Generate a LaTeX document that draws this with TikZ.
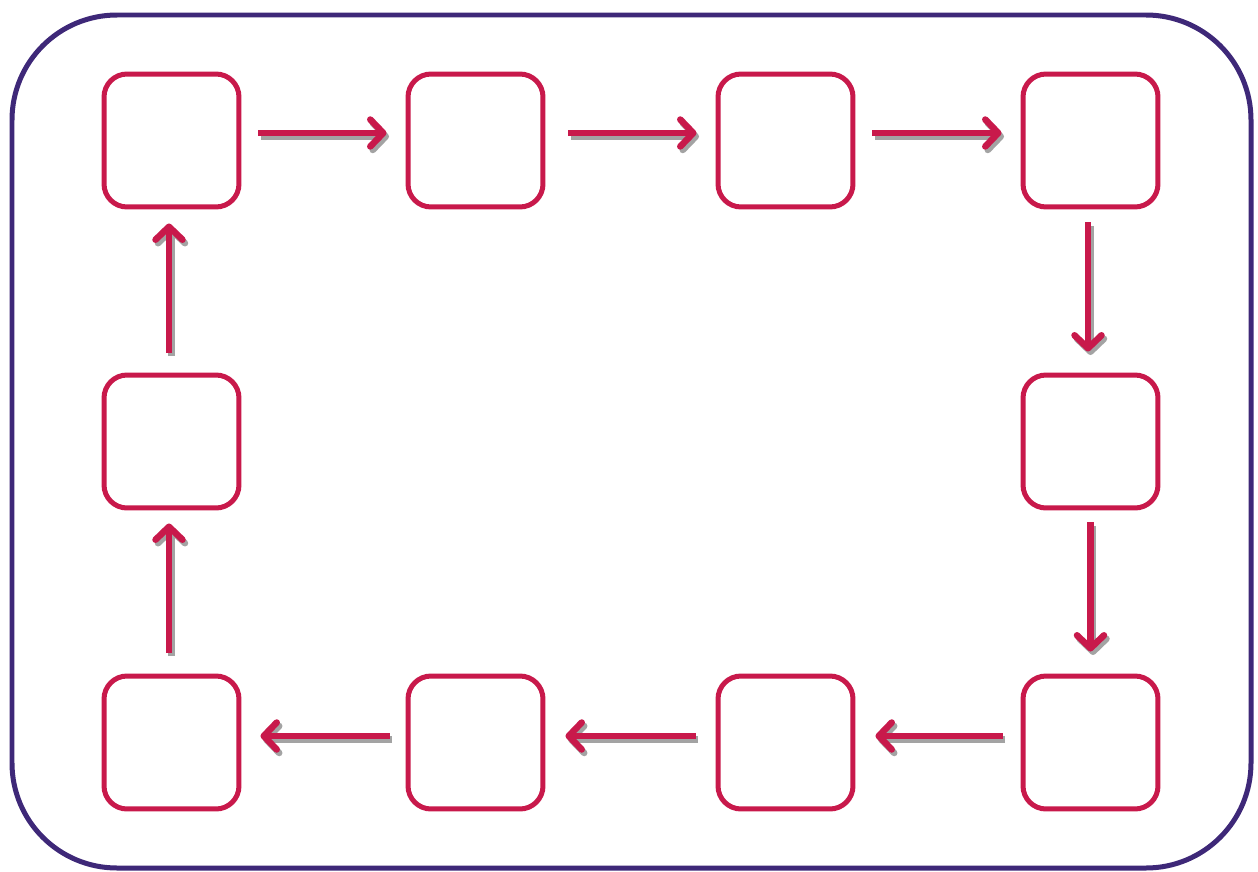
\documentclass[tikz,border=0pt]{standalone}
\usetikzlibrary{arrows.meta}
\definecolor{boxred}{HTML}{C8194B}
\definecolor{framepurple}{HTML}{3E2878}
\definecolor{shadowgray}{HTML}{A3A3A3}
\tikzset{
  stepbox/.style={draw=boxred,line width=0.1cm,rounded corners=0.46cm,minimum width=2.7cm,minimum height=2.66cm,fill=white},
  arr/.style={line width=0.13cm,-{Straight Barb[length=0.26cm,width=0.54cm,round]}},
}
% the ten arrows of the cycle, drawn in colour #1
\newcommand{\cyclearrows}[1]{
\draw[arr,#1,shorten <=0.34cm,shorten >=0.38cm]  ([yshift=0.15cm]b1.east) -- ([yshift=0.15cm]b2.west);
\draw[arr,#1,shorten <=0.46cm,shorten >=0.38cm]  ([yshift=0.15cm]b2.east) -- ([yshift=0.15cm]b3.west);
\draw[arr,#1,shorten <=0.34cm,shorten >=0.38cm]  ([yshift=0.15cm]b3.east) -- ([yshift=0.15cm]b4.west);
\draw[arr,#1,shorten <=0.26cm,shorten >=0.42cm]  ([xshift=-0.05cm]b4.south) -- ([xshift=-0.05cm]b5.north);
\draw[arr,#1,shorten <=0.24cm,shorten >=0.44cm]  (b5.south) -- (b6.north);
\draw[arr,#1,shorten <=0.36cm,shorten >=0.4cm]  ([yshift=0.13cm]b6.west) -- ([yshift=0.13cm]b7.east);
\draw[arr,#1,shorten <=0.4cm,shorten >=0.4cm]  ([yshift=0.13cm]b7.west) -- ([yshift=0.13cm]b8.east);
\draw[arr,#1,shorten <=0.32cm,shorten >=0.38cm]  ([yshift=0.13cm]b8.west) -- ([yshift=0.13cm]b9.east);
\draw[arr,#1,shorten <=0.42cm,shorten >=0.26cm]  ([xshift=-0.05cm]b9.north) -- ([xshift=-0.05cm]b10.south);
\draw[arr,#1,shorten <=0.4cm,shorten >=0.28cm]  ([xshift=-0.05cm]b10.north) -- ([xshift=-0.05cm]b1.south);
}
\begin{document}
\begin{tikzpicture}[x=0.02cm,y=-0.02cm]
\useasboundingbox (0,0) rectangle (1258,872);
\draw[framepurple,line width=0.1cm,rounded corners=2.1cm] (12,15) rectangle (1251,868);

\node[stepbox] (b1) at (171.5,140.5) {};
\node[stepbox] (b2) at (475.5,140.5) {};
\node[stepbox] (b3) at (785.5,140.5) {};
\node[stepbox] (b4) at (1090.5,140.5) {};
\node[stepbox] (b5) at (1090.5,441.5) {};
\node[stepbox] (b6) at (1090.5,742.5) {};
\node[stepbox] (b7) at (785.5,742.5) {};
\node[stepbox] (b8) at (475.5,742.5) {};
\node[stepbox] (b9) at (171.5,742.5) {};
\node[stepbox] (b10) at (171.5,441.5) {};

% shadow first, then the red arrows on top
\begin{scope}[transform canvas={shift={(0.05cm,-0.07cm)}}]
\cyclearrows{shadowgray}
\end{scope}
\cyclearrows{boxred}
\end{tikzpicture}
\end{document}
